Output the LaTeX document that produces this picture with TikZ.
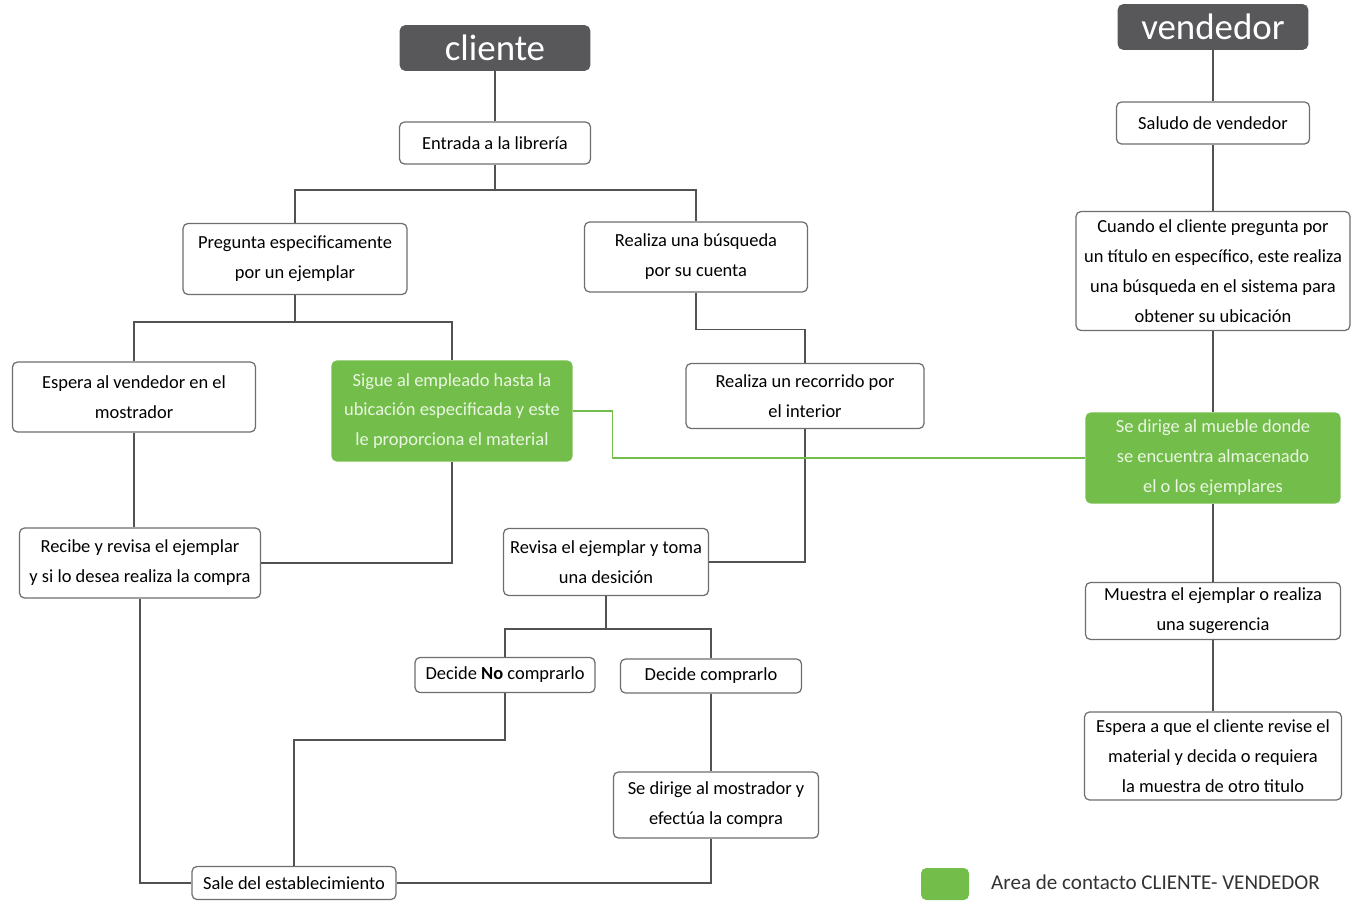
\documentclass[tikz,border=0pt]{standalone}
\usepackage{fontspec}
\setmainfont{Carlito}
\usepackage{tikz}
\usetikzlibrary{arrows.meta,positioning}
\definecolor{flujo-gris}{HTML}{58585A}
\definecolor{flujo-borde}{HTML}{6D6E71}
\definecolor{flujo-verde}{HTML}{73BE4B}
\definecolor{flujo-verdeclaro}{HTML}{EAF6E2}
\tikzset{
  flujo-titulo/.style={fill=flujo-gris, draw=flujo-gris, rounded corners=3pt, text=white,
    font=\fontsize{21}{24}\selectfont, minimum width=3.8cm, minimum height=0.9cm, inner sep=0pt},
  flujo-caja/.style={draw=flujo-borde, fill=white, rounded corners=2.8pt, line width=0.7pt,
    align=center, font=\fontsize{10.5}{17}\selectfont, inner sep=2pt},
  flujo-contacto/.style={flujo-caja, draw=flujo-verde, fill=flujo-verde, text=flujo-verdeclaro},
  flujo-linea/.style={draw=black!68, line width=0.85pt},
  flujo-lineaverde/.style={draw=flujo-verde, line width=0.85pt}
}

\begin{document}
\begin{tikzpicture}[>=Latex, x=0.02cm, y=-0.02cm]
  \useasboundingbox (0,0) rectangle (1353,902);

  % Headers
  \node[flujo-titulo] (cliente) at (495,48) {cliente};
  \node[flujo-titulo] (vendedor) at (1213,27) {vendedor};

  % Cliente side
  \node[flujo-caja, minimum width=3.82cm, minimum height=0.84cm] (entrada) at (495,143)
    {Entrada a la librería};
  \node[flujo-caja, minimum width=4.48cm, minimum height=1.42cm] (pregunta) at (295,259)
    {Pregunta especificamente\\por un ejemplar};
  \node[flujo-caja, minimum width=4.46cm, minimum height=1.4cm] (busqueda) at (696,257)
    {Realiza una búsqueda\\por su cuenta};
  \node[flujo-caja, minimum width=4.86cm, minimum height=1.4cm] (espera) at (134,397)
    {Espera al vendedor en el\\mostrador};
  \node[flujo-contacto, minimum width=4.8cm, minimum height=2.0cm] (sigue) at (452,411)
    {Sigue al empleado hasta la\\ubicación especificada y este\\le proporciona el material};
  \node[flujo-caja, minimum width=4.76cm, minimum height=1.3cm] (recorrido) at (805,396)
    {Realiza un recorrido por\\el interior};
  \node[flujo-caja, minimum width=4.82cm, minimum height=1.4cm] (recibe) at (140,563)
    {Recibe y revisa el ejemplar\\y si lo desea realiza la compra};
  \node[flujo-caja, minimum width=4.1cm, minimum height=1.34cm] (revisa) at (606,562)
    {Revisa el ejemplar y toma\\una desición};
  \node[flujo-caja, minimum width=3.6cm, minimum height=0.7cm] (decideno) at (505,675)
    {Decide \textbf{No} comprarlo};
  \node[flujo-caja, minimum width=3.62cm, minimum height=0.68cm] (decide) at (711,676)
    {Decide comprarlo};
  \node[flujo-caja, minimum width=4.1cm, minimum height=1.32cm] (mostrador) at (716,805)
    {Se dirige al mostrador y\\efectúa la compra};
  \node[flujo-caja, minimum width=4.08cm, minimum height=0.66cm] (sale) at (294,883)
    {Sale del establecimiento};

  % Vendedor side
  \node[flujo-caja, minimum width=3.86cm, minimum height=0.84cm] (saludo) at (1213,123)
    {Saludo de vendedor};
  \node[flujo-caja, minimum width=5.48cm, minimum height=2.38cm] (cuando) at (1213,271)
    {Cuando el cliente pregunta por\\un título en específico, este realiza\\una búsqueda en el sistema para\\obtener su ubicación};
  \node[flujo-contacto, minimum width=5.08cm, minimum height=1.8cm] (mueble) at (1213,458)
    {Se dirige al mueble donde\\se encuentra almacenado\\el o los ejemplares};
  \node[flujo-caja, minimum width=5.1cm, minimum height=1.14cm] (muestra) at (1213,611)
    {Muestra el ejemplar o realiza\\una sugerencia};
  \node[flujo-caja, minimum width=5.14cm, minimum height=1.76cm] (esperaver) at (1213,756)
    {Espera a que el cliente revise el\\material y decida o requiera\\la muestra de otro titulo};

  % Connectors cliente
  \draw[flujo-linea] (cliente) -- (entrada);
  \coordinate (b-entrada) at (495,190);
  \draw[flujo-linea] (entrada) -- (b-entrada);
  \draw[flujo-linea] (b-entrada) -| (pregunta.north);
  \draw[flujo-linea] (b-entrada) -| (busqueda.north);
  \coordinate (b-pregunta) at (295,322);
  \draw[flujo-linea] (pregunta) -- (b-pregunta);
  \draw[flujo-linea] (b-pregunta) -| (espera.north);
  \draw[flujo-linea] (b-pregunta) -| (sigue.north);
  \draw[flujo-linea] (busqueda.south) -- ++(0,37) -| (recorrido.north);
  \draw[flujo-linea] (espera.south) -- (recibe.north -| espera.south);
  \draw[flujo-linea] (sigue.south) |- (recibe.east);
  \draw[flujo-linea] (recorrido.south) |- (revisa.east);
  \coordinate (b-revisa) at (606,629);
  \draw[flujo-linea] (revisa) -- (b-revisa);
  \draw[flujo-linea] (b-revisa) -| (decideno.north);
  \draw[flujo-linea] (b-revisa) -| (decide.north);
  \draw[flujo-linea] (decideno.south) -- ++(0,47) -| (sale.north);
  \draw[flujo-linea] (decide.south) -- (mostrador.north -| decide.south);
  \draw[flujo-linea] (mostrador.south -| decide.south) |- (sale.east);
  \draw[flujo-linea] (recibe.south) |- (sale.west);

  % Contacto cliente-vendedor
  \draw[flujo-lineaverde] (sigue.east) -- ++(40,0) |- (mueble.west);

  % Connectors vendedor
  \foreach \a/\b in {vendedor/saludo, saludo/cuando, cuando/mueble, mueble/muestra, muestra/esperaver}
    \draw[flujo-linea] (\a) -- (\b);

  % Legend
  \node[fill=flujo-verde, rounded corners=3pt, minimum width=0.96cm, minimum height=0.64cm, inner sep=0pt] (leyenda) at (945,884) {};
  \node[anchor=west, font=\fontsize{12}{14}\selectfont, text=black!80] (leyenda-texto) at (985,882)
    {Area de contacto CLIENTE- VENDEDOR};
\end{tikzpicture}
\end{document}
